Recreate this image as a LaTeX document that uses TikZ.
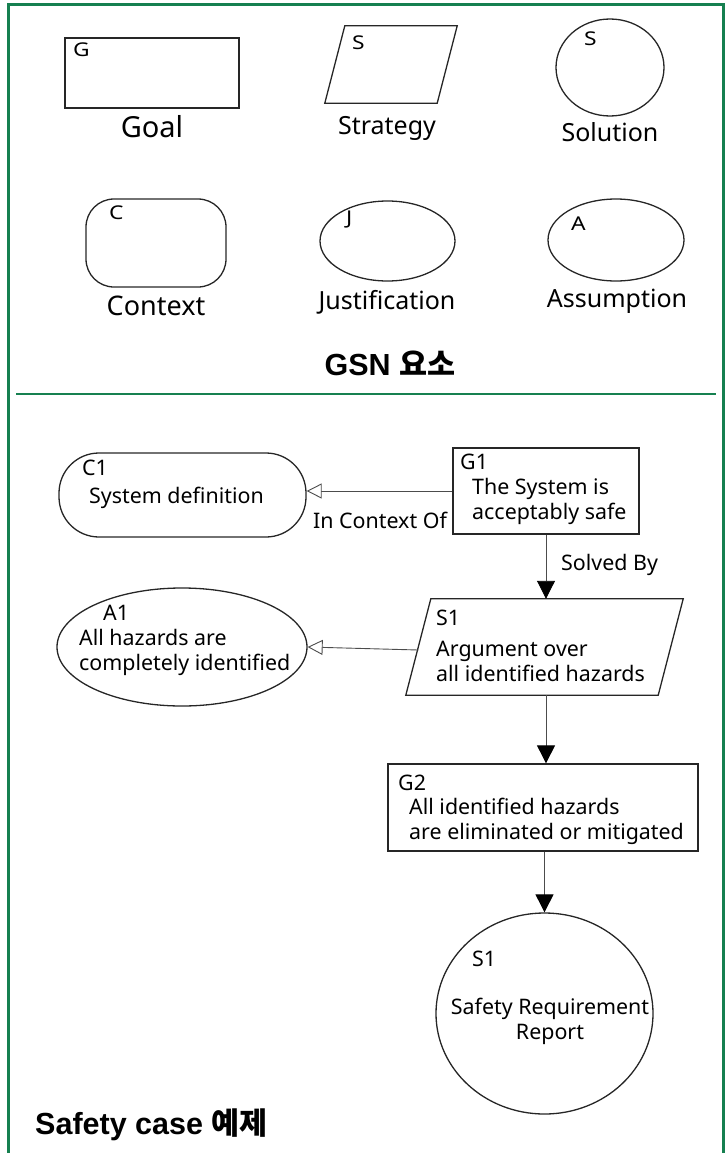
\documentclass[tikz,border=0pt]{standalone}
\usepackage{graphicx}
\usepackage{fontspec}
\setmainfont{Noto Sans}
\newfontfamily\kr{Noto Sans CJK KR}
\newfontfamily\headfont{Liberation Sans}
\usetikzlibrary{arrows.meta,shapes.geometric}
\definecolor{frame}{RGB}{22,128,80}
\newcommand{\slantbox}[2]{% parallelogram over the box of node #1, slant #2
  \draw[shapeline] ([xshift=#2]#1.north west) -- (#1.north east)
    -- ([xshift=-#2]#1.south east) -- (#1.south west) -- cycle;}
\newcommand{\widetag}[1]{\scalebox{1.2}[1]{#1}}
\begin{document}
\begin{tikzpicture}[x=1pt,y=-1pt,
  shapeline/.style={draw=black!85, line width=1.3pt, inner sep=0pt},
  box/.style={inner sep=0pt},
  link/.style={draw=black!70, line width=0.9pt},
  solid tip/.style={-{Triangle[length=18pt,width=18pt,color=black]}},
  open tip/.style={-{Triangle[open,length=15pt,width=15pt,fill=white]}},
  tag/.style={font=\fontsize{19}{22}\selectfont, inner sep=0pt, anchor=west},
  legend/.style={font=\fontsize{25}{28}\selectfont, inner sep=0pt},
  body/.style={font=\fontsize{21.4}{25}\selectfont, inner sep=0pt, align=left, anchor=west},
  title/.style={font=\headfont\bfseries\fontsize{30.5}{34}\selectfont, inner sep=0pt},
]
\useasboundingbox (0,0) rectangle (727,1153);

% frame and divider
\draw[frame, line width=3pt] (8,1160) -- (8,5) -- (723,5) -- (723,1160);
\draw[frame, line width=2.6pt] (16,394) -- (716,394);

% ---------- GSN elements ----------
\node[shapeline, rectangle, minimum width=174pt, minimum height=70pt] (goal) at (152,73) {};
\node[tag] (goalt) at (73,50) {\widetag{G}};
\node[legend, font=\fontsize{29}{32}\selectfont] (goall) at (152,127) {Goal};

\node[box, minimum width=132pt, minimum height=77pt] (strat) at (391,64.5) {};
\slantbox{strat}{20pt}
\node[tag] (stratt) at (352,43) {\widetag{S}};
\node[legend] (stratl) at (387,128) {Strategy};

\node[shapeline, ellipse, minimum width=108pt, minimum height=97pt] (sol) at (610,67.5) {};
\node[tag] (solt) at (584,39) {\widetag{S}};
\node[legend] (soll) at (610,132) {Solution};

\node[shapeline, rounded corners=28pt, minimum width=140pt, minimum height=88pt] (ctx) at (156,243) {};
\node[tag] (ctxt) at (109,213) {\widetag{C}};
\node[legend, font=\fontsize{27}{30}\selectfont] (ctxl) at (156,306) {Context};

\node[shapeline, ellipse, minimum width=135pt, minimum height=80pt] (just) at (387.5,241) {};
\node[tag] (justt) at (346,220) {\widetag{J}};
\node[legend] (justl) at (387,302) {Justification};

\node[shapeline, ellipse, minimum width=136pt, minimum height=82pt] (asm) at (616,240) {};
\node[tag] (asmt) at (571,224) {\widetag{A}};
\node[legend] (asml) at (617,301) {Assumption};

\node[title] (head1) at (390,363) {GSN {\kr\bfseries 요소}};

% ---------- safety case example ----------
\node[shapeline, rounded corners=40pt, minimum width=247pt, minimum height=84pt] (C1) at (182.5,495) {};
\node[body] (C1t) at (82,468) {C1};
\node[body] (C1b) at (89,498) {System definition};

\node[shapeline, minimum width=186pt, minimum height=86pt] (G1) at (546,491) {};
\node[body] (G1t) at (460,462) {G1};
\node[body] (G1b) at (472,501.5) {The System is\\acceptably safe};

\node[box, minimum width=277pt, minimum height=96pt] (S1) at (544.5,647) {};
\slantbox{S1}{25pt}
\node[body] (S1t) at (436,618) {S1};
\node[body] (S1b) at (436,661) {Argument over\\all identified hazards};

\node[shapeline, ellipse, minimum width=250pt, minimum height=118pt] (A1) at (182,647) {};
\node[body] (A1t) at (103,613) {A1};
\node[body] (A1b) at (79,652.5) {All hazards are\\completely identified};

\node[shapeline, minimum width=310pt, minimum height=87pt] (G2) at (543,807.5) {};
\node[body] (G2t) at (398,783) {G2};
\node[body] (G2b) at (409,821.5) {All identified hazards\\are eliminated or mitigated};

\node[shapeline, ellipse, minimum width=217pt, minimum height=201pt] (Sn) at (544.5,1013.5) {};
\node[body] (Snt) at (472,959) {S1};
\node[body, align=center, anchor=center] (Snb) at (550,1021) {Safety Requirement\\Report};

% connectors
\draw[link, open tip] (G1.west) -- (G1.west -| C1.east);
\node[body, anchor=center] (ctxlab) at (380,520) {In Context Of};
\draw[link, solid tip] (G1.south) -- (G1.south |- S1.north);
\node[body] (solvlab) at (561,565) {Solved By};
\draw[link, open tip] ([xshift=12.5pt,yshift=-3pt]S1.west) -- (A1.east);
\draw[link, solid tip] (S1.south -| G1.south) -- (G1.south |- G2.north);
\draw[link, solid tip] (G2.south -| Sn.north) -- (Sn.north);

\node[title, anchor=west] (head2) at (35,1125) {Safety case {\kr\bfseries 예제}};
\end{tikzpicture}
\end{document}
